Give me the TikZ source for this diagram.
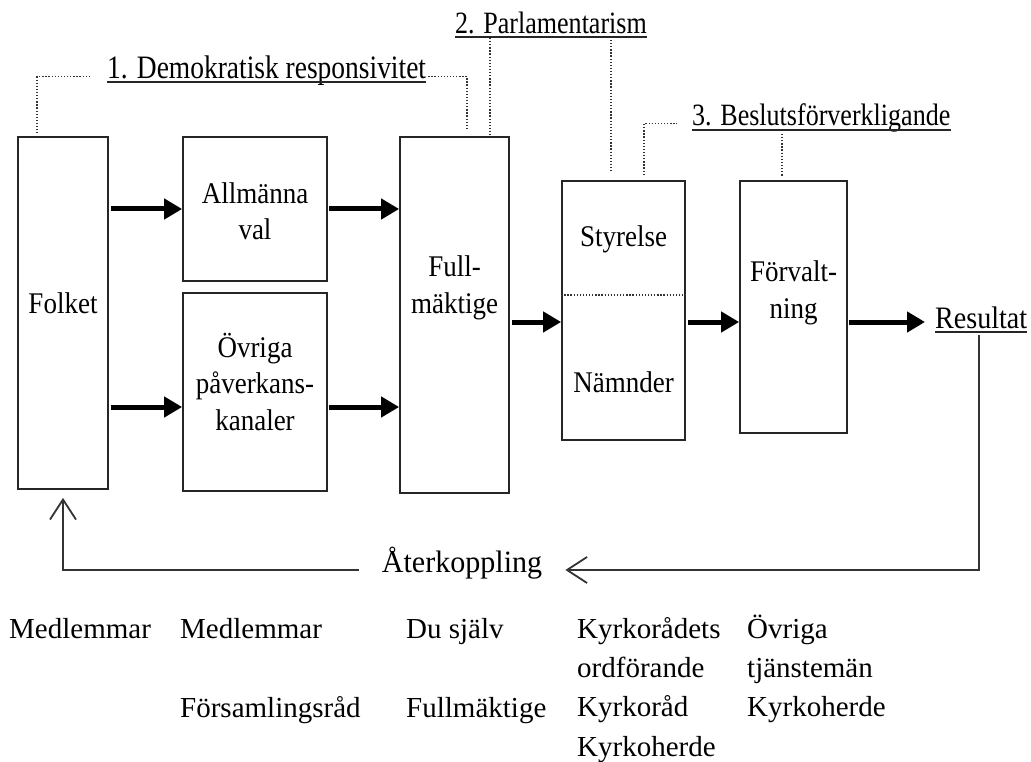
\documentclass[tikz,border=0pt]{standalone}
\usepackage{fontspec}
\setmainfont{Liberation Serif}
\newfontfamily\boxfont[FakeStretch=0.9]{Liberation Serif}
\newfontfamily\titlefont[FakeStretch=0.84]{Liberation Serif}
\newfontfamily\fbfont[FakeStretch=0.97]{Liberation Serif}
\usetikzlibrary{arrows.meta,calc}
\begin{document}
\begin{tikzpicture}[x=1pt,y=-1pt,
  box/.style={draw=black!85, line width=1.8pt, inner sep=0pt},
  btxt/.style={font=\boxfont\fontsize{30}{36.5}\selectfont, inner sep=0pt, anchor=base, align=center},
  ttxt/.style={font=\titlefont\fontsize{31}{36}\selectfont, inner sep=0pt, anchor=base west},
  bottxt/.style={font=\fontsize{29}{39.4}\selectfont, inner sep=0pt, anchor=base west, align=left},
  bigarrow/.style={line width=5pt, -{Triangle[length=18pt,width=20pt]}},
  uline/.style={line width=1.6pt, draw=black!85},
  dotline/.style={line width=1.3pt, draw=black!80, dash pattern=on 1.3pt off 1.8pt},
  fb/.style={line width=1.8pt, draw=black!80},
  fbtip/.style={-{Straight Barb[length=20pt,width=26pt]}}
]
\useasboundingbox (0,0) rectangle (1031,762);

% boxes
\node[box, minimum width=90pt, minimum height=352pt] (folket) at (63,313) {};
\node[box, minimum width=144pt, minimum height=144pt] (allm) at (255,209) {};
\node[box, minimum width=144pt, minimum height=198pt] (ovr) at (255,392) {};
\node[box, minimum width=109pt, minimum height=356pt] (full) at (454.5,315) {};
\node[box, minimum width=123pt, minimum height=259pt] (sty) at (623.5,310.5) {};
\node[box, minimum width=107pt, minimum height=252pt] (forv) at (793.5,307) {};

% box labels (base = baseline of last line)
\node[btxt] (lfolket) at (63,313) {Folket};
\node[btxt] (lallm) at (255,240) {Allmänna\\val};
\node[btxt] (lovr) at (255,430) {Övriga\\påverkans-\\kanaler};
\node[btxt] (lfull) at (454.5,313) {Full-\\mäktige};
\node[btxt] (lsty) at (623.5,247) {Styrelse};
\node[btxt] (lnam) at (623.5,392) {Nämnder};
\node[btxt] (lforv) at (793.5,318) {Förvalt-\\ning};

% divider
\coordinate (dv) at (0,295);
\draw[dotline] (sty.west |- dv) -- (sty.east |- dv);

% Resultat
\node[font=\boxfont\fontsize{31.2}{36}\selectfont, inner sep=0pt, anchor=base west] (res) at (935,328) {Resultat};
\draw[uline] ($(res.base west)+(0,4)$) -- ($(res.base east)+(0,4)$);

% main arrows
\coordinate (o1) at ($(ovr.west)+(0,15)$);
\coordinate (o2) at ($(ovr.east)+(0,15)$);
\coordinate (f1) at ($(full.east)+(0,7)$);
\draw[bigarrow] ([xshift=2pt]folket.east |- allm.west) -- (allm.west);
\draw[bigarrow] ([xshift=2pt]folket.east |- o1) -- (o1);
\draw[bigarrow] ([xshift=1pt]allm.east) -- (full.west |- allm.east);
\draw[bigarrow] ([xshift=1pt]o2) -- (full.west |- o2);
\draw[bigarrow] ([xshift=2pt]f1) -- (sty.west |- f1);
\draw[bigarrow] ([xshift=2pt]sty.east |- f1) -- (forv.west |- f1);
\draw[bigarrow, shorten >=10pt] ([xshift=1pt]forv.east |- f1) -- (res.west |- f1);

% titles
\node[ttxt, font=\titlefont\fontsize{32.7}{36}\selectfont] (t1) at (107,79) {1. Demokratisk responsivitet};
\node[ttxt] (t2) at (455,34) {2. Parlamentarism};
\node[ttxt] (t3) at (692,126) {3. Beslutsförverkligande};
\draw[uline] ($(t1.base west)+(0,3)$) -- ($(t1.base east)+(0,3)$);
\draw[uline] ($(t2.base west)+(0,3)$) -- ($(t2.base east)+(0,3)$);
\draw[uline] ($(t3.base west)+(0,4)$) -- ($(t3.base east)+(0,4)$);

% dotted annotation lines
\coordinate (d1l) at (37,133);
\coordinate (d1r) at (467,130);
\draw[dotline, shorten <=17pt] (t1.mid west) -| (d1l);
\draw[dotline, shorten <=2pt] (t1.mid east) -| (d1r);
\coordinate (p2a) at (490,38);
\coordinate (p2b) at (611,40);
\draw[dotline] (p2a) -- (full.north -| p2a);
\draw[dotline, shorten >=8pt] (p2b) -- (sty.north -| p2b);
\coordinate (p3a) at (644,175);
\draw[dotline, shorten >=15pt] (p3a) |- (t3.mid west);
\coordinate (p3b) at (782,134);
\draw[dotline, shorten >=3pt] (p3b) -- (forv.north -| p3b);

% feedback
\node[font=\fbfont\fontsize{31}{36}\selectfont, inner xsep=23pt, inner ysep=0pt, anchor=mid] (aterk) at (462,570) {Återkoppling};
\coordinate (fbs) at (979,335);
\draw[fb, fbtip] (fbs) |- (aterk.mid east);
\draw[fb, fbtip, shorten >=8pt] (aterk.mid west) -| (folket.south);

% bottom table (base = baseline of last line)
\node[bottxt] (c1a) at (9,638) {Medlemmar};
\node[bottxt] (c2a) at (180,638) {Medlemmar};
\node[bottxt] (c2b) at (180,717) {Församlingsråd};
\node[bottxt] (c3a) at (406,638) {Du själv};
\node[bottxt] (c3b) at (406,717) {Fullmäktige};
\node[bottxt] (c4) at (577,756.2) {Kyrkorådets\\ordförande\\Kyrkoråd\\Kyrkoherde};
\node[bottxt] (c5) at (747,716.8) {Övriga\\tjänstemän\\Kyrkoherde};
\end{tikzpicture}
\end{document}
